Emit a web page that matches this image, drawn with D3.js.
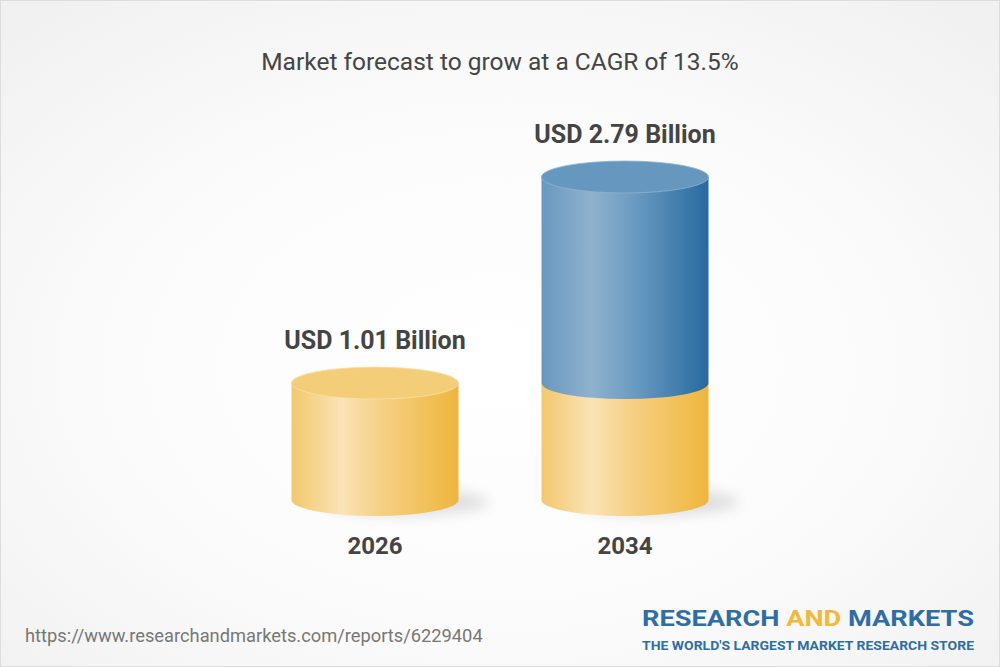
<!DOCTYPE html>
<html>
<head>
<meta charset="utf-8">
<script src="https://cdn.jsdelivr.net/npm/d3@7"></script>
<style>
  html, body { margin: 0; padding: 0; background: #fff; }
  svg { display: block; font-family: Roboto, "Open Sans", sans-serif; }
</style>
</head>
<body>
<div id="canvas"></div>
<script>
/* DATA */
const years = ["2026", "2034"];
const baseValues = [1.01, 1.01];
const totalValues = [1.01, 2.79];
const valueLabels = ["USD 1.01 Billion", "USD 2.79 Billion"];
const title = "Market forecast to grow at a CAGR of 13.5%";
const sourceUrl = "https://www.researchandmarkets.com/reports/6229404";

/* CANVAS */
const width = 1000;
const height = 667;

const svg = d3.select("#canvas")
    .append("svg")
    .attr("width", width)
    .attr("height", height);

const defs = svg.append("defs");

// background: light gray at the edges, white in the middle
const bg = defs.append("radialGradient")
    .attr("id", "bg")
    .attr("cx", "50%").attr("cy", "55%").attr("r", "70%");
bg.append("stop").attr("offset", "0%").attr("stop-color", "#ffffff");
bg.append("stop").attr("offset", "55%").attr("stop-color", "#fbfbfb");
bg.append("stop").attr("offset", "100%").attr("stop-color", "#f1f1f1");

function sideGradient(id, stops) {
    const g = defs.append("linearGradient")
        .attr("id", id)
        .attr("x1", "0%").attr("x2", "100%")
        .attr("y1", "0%").attr("y2", "0%");
    stops.forEach(s => g.append("stop").attr("offset", s[0]).attr("stop-color", s[1]));
}

sideGradient("yellowSide", [["0%", "#f3c86d"], ["30%", "#fae3b6"], ["55%", "#f5cf82"], ["100%", "#efb63d"]]);
sideGradient("blueSide", [["0%", "#6898c0"], ["30%", "#8fb2cd"], ["55%", "#6b9bc2"], ["100%", "#276a9f"]]);

const blur = defs.append("filter")
    .attr("id", "blur")
    .attr("x", "-50%").attr("y", "-50%")
    .attr("width", "200%").attr("height", "200%");
blur.append("feGaussianBlur").attr("stdDeviation", 7);

svg.append("rect")
    .attr("x", 0.5).attr("y", 0.5)
    .attr("width", width - 1).attr("height", height - 1)
    .attr("fill", "url(#bg)")
    .attr("stroke", "#dddddd");

/* TITLE */
svg.append("text")
    .attr("x", width / 2)
    .attr("y", 70)
    .attr("text-anchor", "middle")
    .attr("font-size", 24.5)
    .attr("fill", "#454545")
    .text(title);

/* SCALES */
const x = d3.scalePoint()
    .domain(years)
    .range([250, 750])
    .padding(0.5);

const y = d3.scaleLinear()
    .domain([0, d3.max(totalValues)])
    .range([500, 177]);

const rx = 83.5;
const ry = 16;

function sidePath(cx, v0, v1) {
    const y0 = y(v0), y1 = y(v1);
    return "M" + (cx - rx) + "," + y1 +
        " L" + (cx - rx) + "," + y0 +
        " A" + rx + "," + ry + " 0 0 0 " + (cx + rx) + "," + y0 +
        " L" + (cx + rx) + "," + y1 + " Z";
}

/* CYLINDERS */
years.forEach(function(yr, i) {
    const cx = x(yr);

    // soft floor shadow
    svg.append("ellipse")
        .attr("cx", cx + 30)
        .attr("cy", y(0) + 2)
        .attr("rx", rx)
        .attr("ry", 13)
        .attr("fill", "#000")
        .attr("opacity", 0.12)
        .attr("filter", "url(#blur)");

    // base (yellow) segment
    svg.append("path")
        .attr("d", sidePath(cx, 0, baseValues[i]))
        .attr("fill", "url(#yellowSide)");

    if (totalValues[i] > baseValues[i]) {
        // growth (blue) segment
        svg.append("path")
            .attr("d", sidePath(cx, baseValues[i], totalValues[i]))
            .attr("fill", "url(#blueSide)");
        svg.append("ellipse")
            .attr("cx", cx).attr("cy", y(totalValues[i]))
            .attr("rx", rx).attr("ry", ry)
            .attr("fill", "#6698bf")
            .attr("stroke", "#8fb3d0")
            .attr("stroke-width", 0.8);
    } else {
        svg.append("ellipse")
            .attr("cx", cx).attr("cy", y(totalValues[i]))
            .attr("rx", rx).attr("ry", ry)
            .attr("fill", "#f4cd78")
            .attr("stroke", "#f9dfa8")
            .attr("stroke-width", 0.8);
    }

    // value label
    svg.append("text")
        .attr("x", cx)
        .attr("y", y(totalValues[i]) - ry - 18)
        .attr("text-anchor", "middle")
        .attr("font-size", 25)
        .attr("font-weight", "bold")
        .attr("fill", "#444444")
        .text(valueLabels[i]);

    // year label
    svg.append("text")
        .attr("x", cx)
        .attr("y", 554)
        .attr("text-anchor", "middle")
        .attr("font-size", 24)
        .attr("font-weight", "bold")
        .attr("fill", "#444444")
        .text(yr);
});

/* FOOTER */
svg.append("text")
    .attr("x", 25)
    .attr("y", 642)
    .attr("font-size", 18.3)
    .attr("fill", "#777777")
    .text(sourceUrl);

const logo = svg.append("text")
    .attr("x", 642)
    .attr("y", 626)
    .attr("font-size", 22)
    .attr("font-weight", "bold")
    .attr("textLength", 332)
    .attr("lengthAdjust", "spacingAndGlyphs")
    .attr("fill", "#2f6ea5");
logo.append("tspan").text("RESEARCH ");
logo.append("tspan").attr("fill", "#f2b93b").text("AND");
logo.append("tspan").text(" MARKETS");

svg.append("text")
    .attr("x", 642)
    .attr("y", 649.5)
    .attr("font-size", 13)
    .attr("font-weight", "bold")
    .attr("textLength", 332)
    .attr("lengthAdjust", "spacingAndGlyphs")
    .attr("fill", "#2f6ea5")
    .text("THE WORLD'S LARGEST MARKET RESEARCH STORE");
</script>
</body>
</html>
